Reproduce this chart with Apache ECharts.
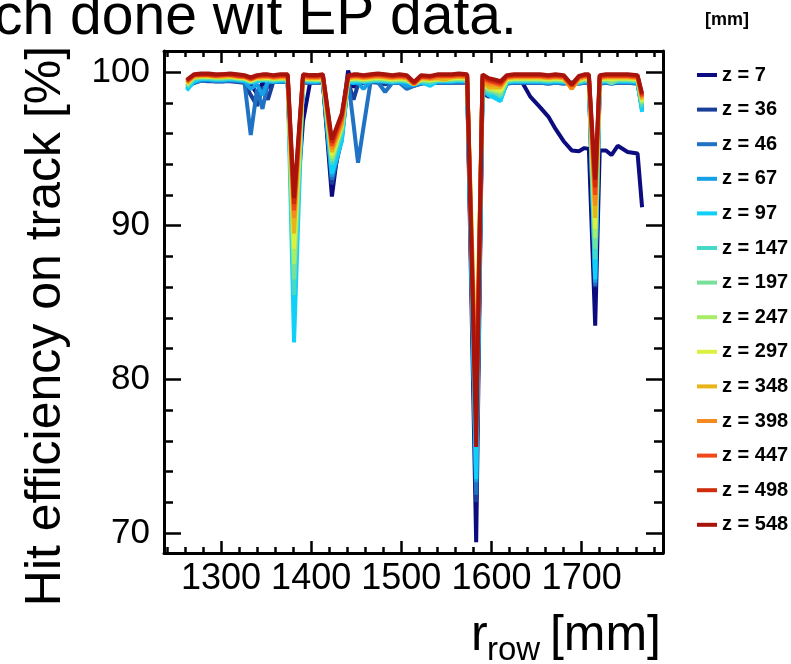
<!DOCTYPE html>
<html>
<head>
<meta charset="utf-8">
<script src="https://cdn.jsdelivr.net/npm/echarts@6/dist/echarts.min.js"></script>
<style>html,body{margin:0;padding:0;background:#fff;}#c{width:791px;height:664px;}</style>
</head>
<body>
<div id="c"></div>
<script>
// ---- data ----
const rRow = [1262, 1270, 1278, 1286, 1294, 1302, 1310, 1318, 1326, 1333,
  1340, 1346, 1352, 1358, 1366, 1374, 1381, 1391, 1399, 1406,
  1413, 1423, 1434, 1441, 1447, 1452, 1458, 1466, 1474, 1482,
  1490, 1498, 1506, 1514, 1522, 1532, 1540, 1548, 1556, 1564,
  1573, 1583, 1590, 1597, 1604, 1610, 1617, 1625, 1632, 1643,
  1654, 1663, 1671, 1680, 1689, 1697, 1703, 1708, 1715, 1720,
  1727, 1733, 1740, 1751, 1762, 1767];

const zNames = ['z = 7', 'z = 36', 'z = 46', 'z = 67', 'z = 97', 'z = 147', 'z = 197',
  'z = 247', 'z = 297', 'z = 348', 'z = 398', 'z = 447', 'z = 498', 'z = 548'];

const xTickLabels = [1300, 1400, 1500, 1600, 1700];
const yTickLabels = [70, 80, 90, 100];

const eff_z7 = [99.2, 99.3, 99.5, 99.45, 99.4, 99.4, 99.45, 99.4, 99.35, 99.2,
  98.6, 99.3, 99.0, 99.4, 99.4, 99.4, 89.0, 96.8, 99.4, 99.35,
  99.4, 91.9, 96.9, 100.1, 99.0, 99.5, 99.4, 99.4, 99.4, 99.35,
  99.35, 99.4, 99.3, 99.2, 99.3, 99.35, 99.35, 99.35, 99.35, 99.4,
  99.35, 69.4, 98.8, 98.5, 98.4, 98.6, 99.3, 99.3, 99.55, 98.4,
  97.7, 97.1, 96.3, 95.5, 94.9, 94.85, 95.05, 95.0, 83.5, 94.9,
  94.9, 94.6, 95.2, 94.8, 94.7, 91.2];
const eff_z36 = [99.1, 99.3, 99.45, 99.4, 99.4, 99.4, 99.4, 99.35, 99.3, 98.5,
  97.8, 99.0, 98.2, 99.35, 99.35, 99.35, 88.0, 99.3, 99.3, 99.3,
  99.3, 92.7, 95.8, 99.4, 98.2, 99.2, 99.3, 99.35, 99.3, 99.2,
  99.3, 99.3, 99.1, 99.1, 99.25, 99.3, 99.3, 99.3, 99.3, 99.3,
  99.3, 72.0, 98.6, 98.4, 98.5, 98.3, 99.25, 99.3, 99.3, 99.3,
  99.3, 99.25, 99.3, 99.25, 99.3, 99.25, 99.3, 99.3, 86.0, 99.25,
  99.3, 99.25, 99.3, 99.3, 99.25, 97.7];
const eff_z46 = [99.0, 99.3, 99.45, 99.45, 99.4, 99.4, 99.45, 99.4, 99.35, 95.9,
  98.9, 97.6, 99.3, 99.4, 99.35, 99.35, 87.0, 99.35, 99.3, 99.3,
  99.35, 93.0, 95.6, 99.5, 96.6, 94.1, 96.4, 99.4, 99.35, 98.7,
  99.3, 99.3, 98.9, 99.1, 99.25, 99.3, 99.3, 99.3, 99.3, 99.35,
  99.3, 72.5, 98.8, 98.5, 98.6, 98.3, 99.25, 99.3, 99.3, 99.3,
  99.3, 99.25, 99.3, 99.25, 99.3, 99.25, 99.3, 99.3, 86.1, 99.25,
  99.3, 99.25, 99.3, 99.3, 99.25, 97.6];
const eff_z67 = [98.9, 99.35, 99.5, 99.5, 99.45, 99.45, 99.5, 99.45, 99.4, 98.9,
  99.2, 98.5, 99.4, 99.35, 99.4, 99.4, 86.0, 99.4, 99.35, 99.35,
  99.4, 93.2, 95.8, 99.35, 99.3, 99.3, 98.9, 99.4, 99.4, 99.35,
  99.3, 99.35, 99.1, 99.15, 99.3, 99.3, 99.35, 99.35, 99.35, 99.4,
  99.35, 73.3, 98.8, 98.5, 98.4, 98.2, 99.3, 99.35, 99.35, 99.35,
  99.35, 99.3, 99.35, 99.3, 99.3, 99.3, 99.35, 99.35, 86.3, 99.3,
  99.35, 99.3, 99.35, 99.35, 99.3, 97.5];
const eff_z97 = [98.8, 99.4, 99.55, 99.55, 99.5, 99.5, 99.55, 99.5, 99.45, 99.3,
  99.4, 99.45, 99.45, 99.4, 99.45, 99.45, 82.4, 99.45, 99.4, 99.4,
  99.45, 93.4, 95.5, 99.4, 99.3, 99.4, 99.35, 99.4, 99.45, 99.4,
  99.35, 99.4, 99.35, 99.2, 99.35, 99.1, 99.4, 99.4, 99.4, 99.45,
  99.4, 73.5, 98.9, 98.5, 98.3, 98.1, 99.35, 99.4, 99.4, 99.4,
  99.4, 99.35, 99.4, 99.35, 99.3, 99.3, 99.4, 99.4, 86.5, 99.35,
  99.4, 99.35, 99.4, 99.4, 99.35, 97.4];
const eff_z147 = [99.0, 99.55, 99.6, 99.6, 99.55, 99.55, 99.6, 99.55, 99.5, 99.35,
  99.5, 99.5, 99.5, 99.45, 99.5, 99.5, 85.5, 99.5, 99.45, 99.45,
  99.5, 94.0, 96.1, 99.45, 99.45, 99.45, 99.4, 99.45, 99.5, 99.45,
  99.4, 99.45, 99.4, 99.2, 99.4, 99.3, 99.45, 99.45, 99.45, 99.5,
  99.45, 76.0, 99.0, 98.7, 98.6, 98.4, 99.4, 99.45, 99.45, 99.45,
  99.45, 99.4, 99.45, 99.4, 99.25, 99.35, 99.45, 99.45, 87.8, 99.4,
  99.45, 99.25, 99.45, 99.45, 99.4, 97.7];
const eff_z197 = [99.1, 99.6, 99.65, 99.65, 99.6, 99.6, 99.65, 99.6, 99.55, 99.4,
  99.55, 99.55, 99.55, 99.5, 99.55, 99.55, 86.5, 99.55, 99.5, 99.5,
  99.5, 94.2, 96.3, 99.5, 99.5, 99.5, 99.45, 99.5, 99.55, 99.5,
  99.45, 99.5, 99.45, 99.2, 99.45, 99.4, 99.5, 99.5, 99.5, 99.55,
  99.5, 78.5, 99.1, 98.8, 98.7, 98.5, 99.45, 99.5, 99.5, 99.5,
  99.5, 99.45, 99.5, 99.45, 99.2, 99.4, 99.5, 99.5, 88.5, 99.45,
  99.5, 99.3, 99.5, 99.5, 99.45, 97.9];
const eff_z247 = [99.2, 99.65, 99.7, 99.7, 99.65, 99.65, 99.7, 99.6, 99.6, 99.4,
  99.6, 99.6, 99.6, 99.55, 99.6, 99.6, 87.5, 99.6, 99.55, 99.5,
  99.55, 94.4, 96.4, 99.5, 99.55, 99.55, 99.5, 99.55, 99.6, 99.55,
  99.5, 99.55, 99.5, 99.2, 99.5, 99.45, 99.5, 99.55, 99.55, 99.6,
  99.55, 79.0, 99.2, 98.9, 98.8, 98.7, 99.5, 99.55, 99.55, 99.55,
  99.55, 99.5, 99.55, 99.5, 99.1, 99.45, 99.55, 99.55, 89.2, 99.5,
  99.55, 99.5, 99.55, 99.55, 99.5, 98.0];
const eff_z297 = [99.2, 99.7, 99.75, 99.7, 99.7, 99.7, 99.7, 99.65, 99.6, 99.45,
  99.6, 99.6, 99.65, 99.6, 99.6, 99.6, 88.5, 99.6, 99.55, 99.55,
  99.6, 94.6, 96.5, 99.55, 99.6, 99.6, 99.55, 99.6, 99.65, 99.6,
  99.55, 99.6, 99.55, 99.2, 99.55, 99.5, 99.55, 99.5, 99.6, 99.65,
  99.6, 80.0, 99.3, 99.0, 98.9, 98.8, 99.55, 99.6, 99.6, 99.6,
  99.6, 99.55, 99.6, 99.55, 99.0, 99.5, 99.6, 99.6, 89.8, 99.55,
  99.6, 99.55, 99.6, 99.6, 99.55, 98.1];
const eff_z348 = [99.3, 99.7, 99.75, 99.75, 99.7, 99.7, 99.75, 99.7, 99.65, 99.5,
  99.65, 99.65, 99.7, 99.6, 99.65, 99.65, 89.5, 99.65, 99.6, 99.6,
  99.65, 94.8, 96.6, 99.6, 99.65, 99.65, 99.6, 99.65, 99.7, 99.65,
  99.6, 99.65, 99.6, 99.2, 99.6, 99.55, 99.6, 99.5, 99.65, 99.7,
  99.65, 79.5, 99.4, 99.0, 99.0, 99.0, 99.6, 99.65, 99.65, 99.65,
  99.65, 99.6, 99.65, 99.6, 98.9, 99.55, 99.65, 99.65, 90.5, 99.6,
  99.65, 99.65, 99.65, 99.65, 99.6, 98.2];
const eff_z398 = [99.3, 99.75, 99.8, 99.8, 99.75, 99.75, 99.8, 99.7, 99.7, 99.5,
  99.7, 99.7, 99.7, 99.65, 99.7, 99.7, 90.5, 99.7, 99.65, 99.65,
  99.7, 95.0, 96.8, 99.65, 99.7, 99.7, 99.65, 99.7, 99.75, 99.7,
  99.65, 99.7, 99.65, 99.2, 99.65, 99.6, 99.65, 99.7, 99.7, 99.75,
  99.7, 78.0, 99.5, 99.2, 99.2, 99.1, 99.65, 99.7, 99.7, 99.7,
  99.7, 99.65, 99.7, 99.65, 98.9, 99.6, 99.7, 99.7, 91.3, 99.65,
  99.7, 99.7, 99.7, 99.7, 99.65, 98.3];
const eff_z447 = [99.4, 99.8, 99.8, 99.8, 99.75, 99.8, 99.8, 99.75, 99.7, 99.55,
  99.7, 99.75, 99.75, 99.7, 99.75, 99.75, 91.0, 99.75, 99.7, 99.7,
  99.75, 95.2, 97.0, 99.7, 99.75, 99.75, 99.7, 99.75, 99.8, 99.75,
  99.7, 99.75, 99.7, 99.25, 99.7, 99.65, 99.75, 99.75, 99.75, 99.8,
  99.75, 77.5, 99.6, 99.4, 99.3, 99.2, 99.7, 99.75, 99.75, 99.75,
  99.75, 99.7, 99.75, 99.7, 99.1, 99.65, 99.75, 99.75, 92.0, 99.7,
  99.75, 99.75, 99.75, 99.75, 99.7, 98.4];
const eff_z498 = [99.45, 99.8, 99.85, 99.85, 99.8, 99.85, 99.85, 99.8, 99.75, 99.6,
  99.75, 99.8, 99.8, 99.75, 99.8, 99.8, 91.4, 99.8, 99.75, 99.75,
  99.8, 95.4, 97.2, 99.75, 99.8, 99.8, 99.75, 99.8, 99.85, 99.8,
  99.75, 99.8, 99.75, 99.3, 99.75, 99.7, 99.8, 99.8, 99.8, 99.85,
  99.8, 77.0, 99.75, 99.5, 99.4, 99.3, 99.75, 99.8, 99.8, 99.8,
  99.8, 99.75, 99.8, 99.75, 99.15, 99.7, 99.8, 99.8, 92.5, 99.75,
  99.8, 99.8, 99.8, 99.8, 99.75, 98.5];
const eff_z548 = [99.5, 99.85, 99.9, 99.9, 99.85, 99.85, 99.9, 99.85, 99.8, 99.65,
  99.8, 99.85, 99.85, 99.8, 99.85, 99.85, 91.8, 99.85, 99.8, 99.8,
  99.85, 95.6, 97.3, 99.8, 99.85, 99.85, 99.8, 99.85, 99.9, 99.85,
  99.8, 99.85, 99.8, 99.35, 99.8, 99.75, 99.85, 99.85, 99.85, 99.9,
  99.85, 75.6, 99.85, 99.6, 99.5, 99.4, 99.8, 99.85, 99.85, 99.85,
  99.85, 99.8, 99.85, 99.8, 99.2, 99.75, 99.85, 99.85, 93.0, 99.8,
  99.85, 99.85, 99.85, 99.85, 99.8, 98.6];

const effSeries = [eff_z7, eff_z36, eff_z46, eff_z67, eff_z97, eff_z147, eff_z197,
  eff_z247, eff_z297, eff_z348, eff_z398, eff_z447, eff_z498, eff_z548];

// ---- style ----
const palette = ['#0c0c80', '#1a3f9a', '#1f72c4', '#16a0e6', '#10d0f8', '#48d8c8', '#78e098',
  '#a8ec68', '#dcf040', '#e8b418', '#f48a20', '#f04818', '#d02c0c', '#a8140c'];
const FONT = '"Liberation Sans", Arial, Helvetica, sans-serif';
const X_MIN = 1236.8, X_MAX = 1790.2, Y_MIN = 68.7, Y_MAX = 101.37;

const chart = echarts.init(document.getElementById('c'), null, {renderer: 'canvas'});

const series = effSeries.map((vals, k) => ({
  name: zNames[k],
  type: 'line',
  xAxisIndex: 0,
  yAxisIndex: 0,
  showSymbol: false,
  symbol: 'none',
  data: rRow.map((x, i) => [x, vals[i]]),
  lineStyle: {color: palette[k], width: 4},
  itemStyle: {color: palette[k]},
  emphasis: {disabled: true},
  animation: false
}));

function xAxisDef(pos, showLabel) {
  return {
    type: 'value', position: pos, min: X_MIN, max: X_MAX, splitNumber: 5,
    axisLine: {show: true, onZero: false, lineStyle: {color: '#000', width: 3}},
    axisTick: {show: true, inside: true, length: 12, lineStyle: {color: '#000', width: 2.5}},
    minorTick: {show: true, splitNumber: 5, length: 6, lineStyle: {color: '#000', width: 2.5}},
    splitLine: {show: false},
    axisLabel: {
      show: showLabel, margin: 8, color: '#000', fontSize: 36, fontFamily: FONT,
      formatter: v => (xTickLabels.indexOf(Math.round(v)) >= 0 && Math.abs(v - Math.round(v)) < 1e-6) ? String(Math.round(v)) : ''
    }
  };
}
function yAxisDef(pos, showLabel) {
  return {
    type: 'value', position: pos, min: Y_MIN, max: Y_MAX, splitNumber: 3,
    axisLine: {show: true, onZero: false, lineStyle: {color: '#000', width: 3}},
    axisTick: {show: true, inside: true, length: 17, lineStyle: {color: '#000', width: 2.5}},
    minorTick: {show: true, splitNumber: 5, length: 9, lineStyle: {color: '#000', width: 2.5}},
    splitLine: {show: false},
    axisLabel: {
      show: showLabel, margin: 14, color: '#000', fontSize: 35, fontFamily: FONT,
      formatter: v => (yTickLabels.indexOf(Math.round(v)) >= 0 && Math.abs(v - Math.round(v)) < 1e-6) ? String(Math.round(v)) : ''
    }
  };
}

const option = {
  animation: false,
  backgroundColor: '#fff',
  grid: {left: 164, right: 128, top: 51, bottom: 111, containLabel: false},
  xAxis: [xAxisDef('bottom', true), xAxisDef('top', false)],
  yAxis: [yAxisDef('left', true), yAxisDef('right', false)],
  legend: {
    orient: 'vertical', left: 697, top: 65, padding: 0,
    icon: 'rect', itemWidth: 20, itemHeight: 4, itemGap: 14.6,
    selectedMode: false,
    textStyle: {color: '#000', fontSize: 20, fontWeight: 'bold', fontFamily: FONT, lineHeight: 20},
    data: zNames
  },
  graphic: [
    {type: 'text', x: -6, y: 18,
      style: {text: 'ch done wit EP data.', font: '57px ' + FONT, fill: '#000', textAlign: 'left', textVerticalAlign: 'middle'}},
    {type: 'text', x: 705, y: 20,
      style: {text: '[mm]', font: 'bold 18px ' + FONT, fill: '#000', textAlign: 'left', textVerticalAlign: 'middle'}},
    {type: 'text', x: 46, y: 326, rotation: Math.PI / 2,
      style: {text: 'Hit efficiency on track [%]', font: '50px ' + FONT, fill: '#000', textAlign: 'center', textVerticalAlign: 'middle'}},
    {type: 'text', x: 471, y: 636.5,
      style: {text: 'r', font: '50px ' + FONT, fill: '#000', textAlign: 'left', textVerticalAlign: 'middle'}},
    {type: 'text', x: 487, y: 650.8,
      style: {text: 'row', font: '33px ' + FONT, fill: '#000', textAlign: 'left', textVerticalAlign: 'middle'}},
    {type: 'text', x: 661, y: 636.5,
      style: {text: '[mm]', font: '50px ' + FONT, fill: '#000', textAlign: 'right', textVerticalAlign: 'middle'}}
  ],
  series: series
};
chart.setOption(option);
</script>
</body>
</html>
